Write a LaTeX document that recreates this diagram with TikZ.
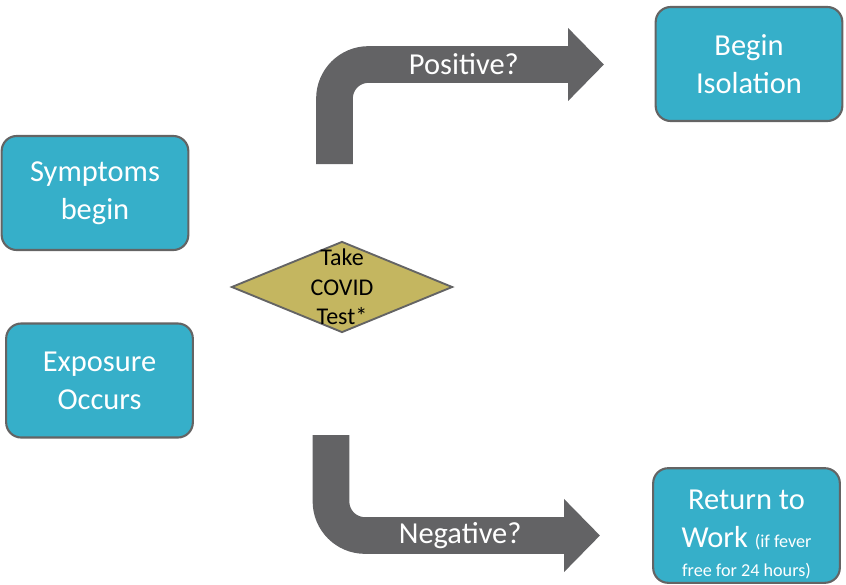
\documentclass[tikz,border=0pt]{standalone}
\usepackage{fontspec}
\setmainfont{Carlito}
\usepackage{xcolor}
\usetikzlibrary{shapes.geometric, arrows.meta, positioning}

\definecolor{boxteal}{RGB}{54,175,201}
\definecolor{boxedge}{RGB}{100,100,100}
\definecolor{testolive}{RGB}{196,182,96}
\definecolor{arrowgray}{RGB}{99,99,101}

\begin{document}
\begin{tikzpicture}[
        x=0.03cm, y=-0.03cm,
        block/.style={rectangle, rounded corners=0.45cm, draw=boxedge, line width=1.8pt, fill=boxteal, text=white, align=center, minimum width=5.6cm, minimum height=3.42cm, font=\fontsize{26}{32.5}\selectfont},
        decision/.style={diamond, draw=boxedge, line width=1.6pt, fill=testolive, inner sep=0pt, minimum width=6.63cm, minimum height=2.73cm},
        bigarrow/.style={draw=arrowgray, line width=1.1cm, rounded corners=1.02cm, -{Triangle[width=2.13cm, length=1.08cm]}},
        arrowtext/.style={text=white, font=\fontsize{26}{31}\selectfont}
    ]
    \useasboundingbox (0,0) rectangle (846,584);

    \node (symptoms) [block] at (95,193) {Symptoms\\begin};
    \node (exposure) [block] at (99.5,380.5) {Exposure\\Occurs};
    \node (test) [decision, label={[align=center, font=\fontsize{20.5}{25}\selectfont]center:Take\\COVID\\Test*}] at (342,287) {};
    \node (isolation) [block] at (749,64) {Begin\\Isolation};
    \node (work) [block, minimum height=3.3cm] at (746.5,525.5) {\rule{0pt}{32pt}Return to\\Work {\fontsize{15.5}{18}\selectfont (if fever}\\[-8pt]{\fontsize{15.5}{18}\selectfont free for 24 hours)}};

    \coordinate (posfrom) at (334.5,164);
    \coordinate (posto) at (604,64.5);
    \coordinate (negfrom) at (331,435);
    \coordinate (negto) at (600,535.5);

    \draw[bigarrow] (posfrom) |- node[arrowtext, pos=0.74] {Positive?} (posto);
    \draw[bigarrow] (negfrom) |- node[arrowtext, pos=0.74] {Negative?} (negto);
\end{tikzpicture}
\end{document}
